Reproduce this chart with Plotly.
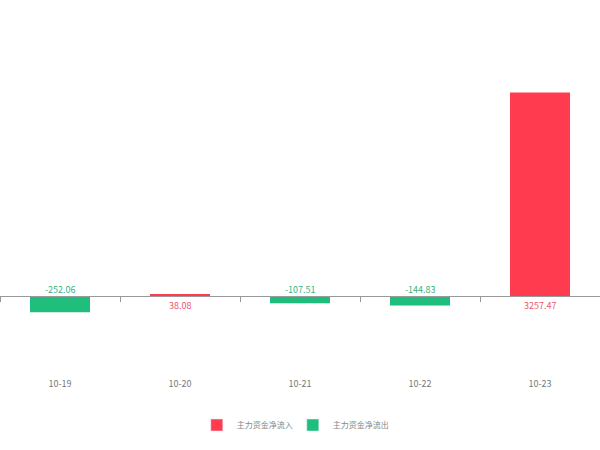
import plotly.graph_objects as go

dates = ["10-19", "10-20", "10-21", "10-22", "10-23"]
values = [-252.06, 38.08, -107.51, -144.83, 3257.47]
label_texts = ["-252.06", "38.08", "-107.51", "-144.83", "3257.47"]
series_names = ["主力资金净流入", "主力资金净流出"]

RED = "#ff3c4f"
GREEN = "#1fbe7c"
RED_TXT = "#f0566a"
GREEN_TXT = "#38b285"
FONT = "Noto Sans CJK SC"

y_min, y_max = -1000, 4000

colors = [RED if v >= 0 else GREEN for v in values]

fig = go.Figure()
fig.add_trace(go.Bar(
    x=dates, y=values, marker=dict(color=colors, line=dict(width=0)),
    width=0.5, showlegend=False, hoverinfo="skip",
))
# legend entries
fig.add_trace(go.Bar(x=[None], y=[None], name=series_names[0], marker_color=RED, showlegend=True))
fig.add_trace(go.Bar(x=[None], y=[None], name=series_names[1], marker_color=GREEN, showlegend=True))

for d, v, t in zip(dates, values, label_texts):
    pos = v >= 0
    fig.add_annotation(
        x=d, y=0, text=t, showarrow=False,
        yanchor="top" if pos else "bottom",
        yshift=-1 if pos else -2,
        font=dict(size=9, color=RED_TXT if pos else GREEN_TXT, family=FONT),
    )

zero_frac = (0 - y_min) / (y_max - y_min)

fig.update_layout(
    width=600, height=450,
    margin=dict(l=0, r=0, t=46, b=91, autoexpand=False),
    paper_bgcolor="white", plot_bgcolor="white",
    font=dict(family=FONT, size=9, color="#666666"),
    bargap=0.5,
    xaxis=dict(
        type="category", categoryorder="array", categoryarray=dates,
        anchor="free", position=zero_frac, automargin=False,
        showline=True, linecolor="#999999", linewidth=1,
        ticks="outside", tickson="boundaries", ticklen=5, tickcolor="#999999",
        showgrid=False, zeroline=False,
        tickfont=dict(size=9, color="#777777", family=FONT),
        ticklabelstandoff=79,
    ),
    yaxis=dict(range=[y_min, y_max], visible=False, showgrid=False, zeroline=False,
               automargin=False),
    legend=dict(
        orientation="h", x=0.488, xanchor="center", y=-0.211, yanchor="middle",
        font=dict(size=8, color="#888888", family=FONT),
        itemwidth=30, entrywidth=51, traceorder="normal",
    ),
)

fig.write_html("out.html", post_script="document.body.style.margin='0';",
               config={"displayModeBar": False})
